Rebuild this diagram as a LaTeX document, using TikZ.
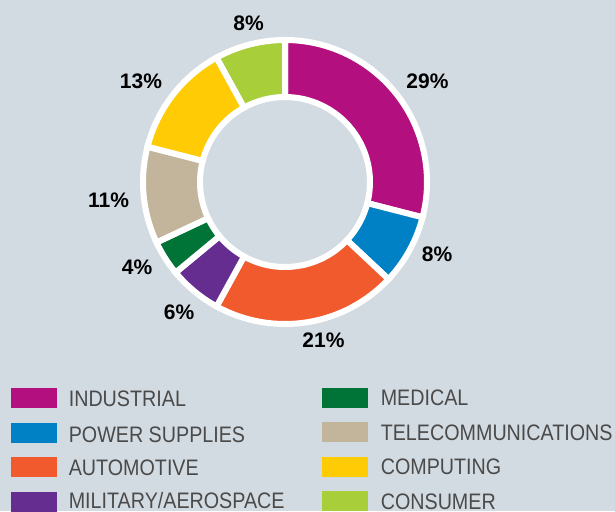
\documentclass[tikz,border=0pt]{standalone}
\usepackage{fontspec}
\setmainfont{Liberation Sans}
\newfontfamily\legfont[FakeStretch=0.88]{Liberation Sans}
\usetikzlibrary{positioning}
\usepackage{xcolor}
\newcommand{\pxunit}{0.5pt}
\definecolor{bgcol}{HTML}{D3DBE2}
\definecolor{legtext}{HTML}{4A4A4A}
\definecolor{indcol}{HTML}{B40F7E}
\definecolor{powcol}{HTML}{0081C6}
\definecolor{autcol}{HTML}{F15A2C}
\definecolor{milcol}{HTML}{652D90}
\definecolor{medcol}{HTML}{007337}
\definecolor{telcol}{HTML}{C3B59B}
\definecolor{comcol}{HTML}{FFCB05}
\definecolor{concol}{HTML}{A8CF3A}
\tikzset{
    segsty/.style={draw=white,line width=6*\pxunit,line join=miter},
    pctsty/.style={font=\fontsize{10.5}{12}\selectfont\bfseries,text=black,inner sep=0pt,text height=7.5pt,text depth=0pt},
    swsty/.style={rectangle,minimum width=46*\pxunit,minimum height=20*\pxunit,inner sep=0pt},
    legsty/.style={font=\legfont\fontsize{11.2}{13}\selectfont,text=legtext,inner sep=0pt,text height=8pt,text depth=0pt},
}
\newcommand{\ringseg}[3]{\draw[segsty,fill=#3] (#1:142) arc[start angle=#1,end angle=#2,radius=142] -- (#2:85) arc[start angle=#2,end angle=#1,radius=85] -- cycle;}

\begin{document}
\begin{tikzpicture}[x=\pxunit,y=\pxunit]
\useasboundingbox[fill=bgcol] (0,0) rectangle (615,511);

% ring
\begin{scope}[shift={(285,329)}]
\ringseg{90}{-14.4}{indcol}
\ringseg{-14.4}{-43.2}{powcol}
\ringseg{-43.2}{-118.8}{autcol}
\ringseg{-118.8}{-140.4}{milcol}
\ringseg{-140.4}{-154.8}{medcol}
\ringseg{-154.8}{-194.4}{telcol}
\ringseg{-194.4}{-241.2}{comcol}
\ringseg{-241.2}{-270}{concol}
\end{scope}

% percentages
\node[pctsty] (pind) at (427.5,430) {29\%};
\node[pctsty] (ppow) at (437,257.5) {8\%};
\node[pctsty] (paut) at (323.5,171.5) {21\%};
\node[pctsty] (pmil) at (179,199) {6\%};
\node[pctsty] (pmed) at (137,244) {4\%};
\node[pctsty] (ptel) at (108.5,311) {11\%};
\node[pctsty] (pcom) at (141,430) {13\%};
\node[pctsty] (pcon) at (248.5,488) {8\%};

% legend
\node[swsty,fill=indcol] (swind) at (34,113) {};
\node[swsty,fill=powcol] (swpow) at (34,78.5) {};
\node[swsty,fill=autcol] (swaut) at (34,44) {};
\node[swsty,fill=milcol] (swmil) at (34,9.5) {};
\node[swsty,fill=medcol] (swmed) at (345,113.5) {};
\node[swsty,fill=telcol] (swtel) at (345,79) {};
\node[swsty,fill=comcol] (swcom) at (345,44.5) {};
\node[swsty,fill=concol] (swcon) at (345,10) {};

\node[legsty,right=5.5pt of swind] (lind) {INDUSTRIAL};
\node[legsty,right=5.5pt of swpow,yshift=-1pt] (lpow) {POWER SUPPLIES};
\node[legsty,right=5.5pt of swaut] (laut) {AUTOMOTIVE};
\node[legsty,right=5.5pt of swmil,yshift=0.5pt] (lmil) {MILITARY/AEROSPACE};
\node[legsty,right=6pt of swmed] (lmed) {MEDICAL};
\node[legsty,right=6pt of swtel] (ltel) {TELECOMMUNICATIONS};
\node[legsty,right=6pt of swcom] (lcom) {COMPUTING};
\node[legsty,right=6pt of swcon] (lcon) {CONSUMER};
\end{tikzpicture}
\end{document}
